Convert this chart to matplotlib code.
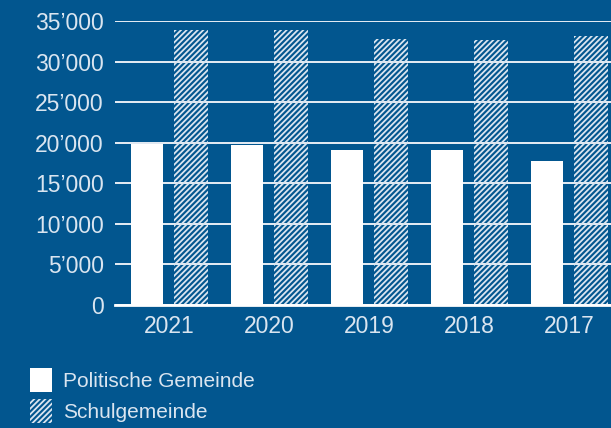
import matplotlib.pyplot as plt
import numpy as np
from matplotlib.patches import Patch

jahre = ['2021', '2020', '2019', '2018', '2017']
politische = [19900, 19700, 19100, 19100, 17700]
schule = [33900, 33900, 32800, 32700, 33100]
y_ticks = [0, 5000, 10000, 15000, 20000, 25000, 30000, 35000]

bg = '#02568f'
txt = '#dae5f0'

plt.rcParams['font.family'] = ['Liberation Sans', 'DejaVu Sans']
plt.rcParams['hatch.linewidth'] = 1.3

fig = plt.figure(figsize=(6.11, 4.28), dpi=100, facecolor=bg)
ax = fig.add_axes([115/611, 1-305/428, 1-115/611, (305-21)/428])
ax.set_facecolor(bg)

x = np.arange(len(jahre))
ax.bar(x - 0.225, politische, width=0.32, color='white', zorder=3, linewidth=0)
ax.bar(x + 0.215, schule, width=0.34, color='none', edgecolor=txt,
       hatch='//////', linewidth=0, zorder=3)

ax.set_ylim(0, 35000)
ax.set_xlim(-0.545, 4.415)
ax.set_yticks(y_ticks)
ax.set_yticklabels([f"{v:,}".replace(",", "\u2019") for v in y_ticks])
ax.set_xticks(x)
ax.set_xticklabels(jahre)
ax.tick_params(length=0, colors=txt, labelsize=16.5)
ax.tick_params(axis='y', pad=8)
ax.tick_params(axis='x', pad=7)
ax.grid(axis='y', color='#e8eef5', linewidth=1.4, zorder=1)
for s in ['top', 'right', 'left']:
    ax.spines[s].set_visible(False)
ax.spines['bottom'].set_color('white')
ax.spines['bottom'].set_linewidth(2)
ax.spines['bottom'].set_zorder(4)

handles = [Patch(facecolor='white', linewidth=0),
           Patch(facecolor='none', edgecolor=txt, hatch='//////', linewidth=0)]
fig.legend(handles, ['Politische Gemeinde', 'Schulgemeinde'],
           loc='upper left', bbox_to_anchor=(11/611, 1-349/428),
           frameon=False, fontsize=15, labelcolor=txt,
           handlelength=1.05, handleheight=1.45, handletextpad=0.55,
           labelspacing=0.3)

fig.savefig('out.png', dpi=100, facecolor=bg)
